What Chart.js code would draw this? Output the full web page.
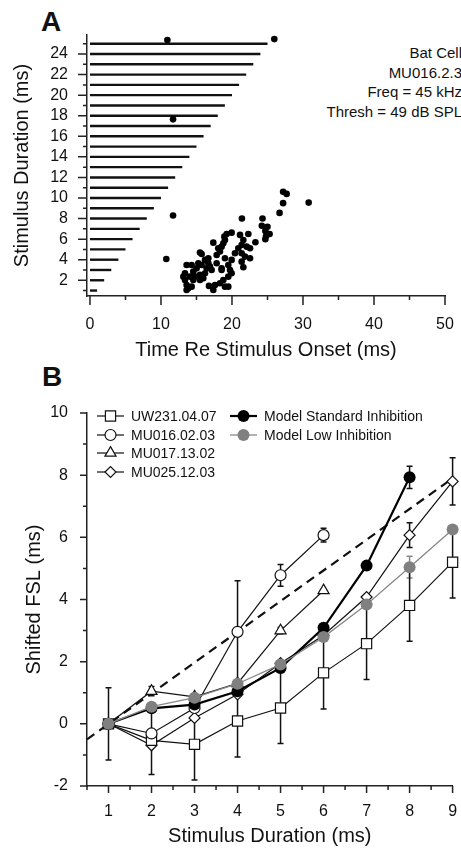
<!DOCTYPE html>
<html>
<head>
<meta charset="utf-8">
<script src="https://cdn.jsdelivr.net/npm/chart.js@4.4.0/dist/chart.umd.min.js"></script>
<style>
  body { margin: 0; width: 461px; height: 850px; overflow: hidden; background: #fff; position: relative;
         font-family: "Liberation Sans", Arial, sans-serif; color: #111; }
  canvas { position: absolute; left: 0; }
  #chart-a { top: 0; }
  #chart-b { top: 360px; }
  .panel-label { position: absolute; font-weight: bold; font-size: 28px; line-height: 28px; }
  #cell-info { position: absolute; top: 43px; left: 0; width: 462px; text-align: right; font-size: 15px; line-height: 19.5px; }
</style>
</head>
<body>
<div class="panel-label" style="left:41px; top:8px;">A</div>
<div class="panel-label" style="left:42px; top:363px;">B</div>
<div id="cell-info">Bat Cell<br>MU016.2.3<br>Freq = 45 kHz<br>Thresh = 49 dB SPL</div>
<canvas id="chart-a" width="461" height="370"></canvas>
<canvas id="chart-b" width="461" height="490"></canvas>
<script>
// ---- panel A: raster of first spikes ----
const stimDurations = [1, 2, 3, 4, 5, 6, 7, 8, 9, 10, 11, 12, 13, 14, 15, 16, 17, 18, 19, 20, 21, 22, 23, 24, 25];
const spikeTimes = [10.9, 25.96, 11.7, 11.7, 10.75, 27.2, 27.7, 27.2, 30.8, 26.7, 21.4, 24.3, 24.2, 25.0, 24.7, 25.3, 24.8, 24.7, 23.3,
  19.95, 19.25, 18.92, 19.01, 18.78, 18.54, 18.07, 18.31, 17.84, 17.37, 21.13, 22.30, 21.60, 21.36, 22.07, 22.54, 20.89, 21.36,
  21.83, 22.54, 21.36, 21.60, 19.95, 19.48, 19.72, 19.48, 19.95, 18.54, 18.78, 19.01, 19.48, 18.31, 17.61, 17.37, 16.76, 15.73,
  15.49, 16.20, 16.67, 16.90, 16.43, 17.14, 15.73, 15.26, 15.02, 14.32, 13.61, 13.38, 13.15, 13.38, 13.61, 13.85, 13.61, 14.32,
  14.55, 14.79, 15.49, 15.96, 16.20, 14.55, 14.08, 15.49, 16.67, 17.84, 18.54, 19.01, 20.42];
const spikeDurs = [25.36, 25.45, 17.65, 8.3, 4.07, 10.6, 10.4, 9.5, 9.55, 8.55, 8.0, 8.0, 7.3, 7.2, 6.8, 6.5, 6.3, 6.0, 5.7,
  6.63, 6.50, 6.24, 5.92, 5.60, 5.27, 5.11, 4.79, 4.46, 5.66, 6.41, 6.50, 5.92, 5.43, 5.27, 5.11, 5.11, 4.62,
  4.30, 4.14, 3.81, 3.27, 3.98, 3.49, 3.00, 2.35, 2.68, 3.16, 2.03, 1.38, 1.38, 1.71, 1.54, 1.06, 1.45, 4.56,
  4.69, 3.98, 4.14, 3.33, 3.16, 3.00, 3.49, 3.65, 3.16, 3.49, 3.49, 2.68, 2.35, 2.03, 1.54, 1.22, 1.06, 1.38,
  2.03, 2.35, 2.52, 2.19, 2.68, 2.84, 2.35, 2.03, 3.65, 3.65, 3.00, 4.14, 4.62];
const aXTicks = [0, 10, 20, 30, 40, 50];
const aXMinor = [5, 15, 25, 35, 45];
const aYTicks = [2, 4, 6, 8, 10, 12, 14, 16, 18, 20, 22, 24];
const aYMinor = [1, 3, 5, 7, 9, 11, 13, 15, 17, 19, 21, 23, 25];

// ---- panel B: shifted first spike latency ----
const durB = [1, 2, 3, 4, 5, 6, 7, 8, 9];
const uw231 = [0, -0.53, -0.66, 0.09, 0.51, 1.64, 2.58, 3.81, 5.2];
const uw231Err = [1.16, 1.1, 1.15, 1.16, 1.14, 1.16, 1.15, 1.15, 1.15];
const mu016 = [0, -0.31, 0.51, 2.96, 4.78, 6.07];
const mu016Err = [0, 0, 0, 1.64, 0.35, 0.22];
const mu017 = [0, 1.05, 0.87, 1.3, 3.0, 4.29];
const mu017Err = [0, 0.15, 0, 0, 0.1, 0];
const mu025 = [0, -0.69, 0.19, 0.95, 1.95, 2.85, 4.08, 6.07, 7.8];
const mu025Err = [0, 0, 0, 0, 0, 0, 0, 0.4, 0.76];
const modelStd = [0, 0.5, 0.62, 1.05, 1.8, 3.09, 5.09, 7.93];
const modelStdErr = [0, 0, 0, 0, 0, 0, 0, 0.36];
const modelLow = [0, 0.55, 0.84, 1.29, 1.91, 2.79, 3.84, 5.04, 6.25];
const modelLowErr = [0, 0, 0, 0, 0, 0, 0, 0.35, 0];
const unityX = [0.5, 9];
const unityY = [-0.5, 7.9];
const bXTicks = [1, 2, 3, 4, 5, 6, 7, 8, 9];
const bXMinor = [0.5, 1.5, 2.5, 3.5, 4.5, 5.5, 6.5, 7.5, 8.5];
const bYTicks = [-2, 0, 2, 4, 6, 8, 10];
const bYMinor = [-1, 1, 3, 5, 7, 9];

Chart.defaults.font.family = '"Liberation Sans", Arial, sans-serif';
Chart.defaults.color = '#111';

const toPoints = (xs, ys) => ys.map((v, i) => ({ x: xs[i], y: v }));

// short/long tick marks drawn on the library scales
const makeTickMarks = (marks) => ({
  id: 'tickMarks',
  afterDraw(chart) {
    const { ctx, scales: { x, y } } = chart;
    ctx.save();
    ctx.strokeStyle = '#222';
    ctx.lineWidth = 1.5;
    ctx.beginPath();
    const xMark = (v, len) => { const p = x.getPixelForValue(v); ctx.moveTo(p, x.top); ctx.lineTo(p, x.top + len); };
    const yMark = (v, len) => { const p = y.getPixelForValue(v); ctx.moveTo(y.right, p); ctx.lineTo(y.right - len, p); };
    marks.xMajor.forEach(v => xMark(v, marks.major));
    marks.xMinor.forEach(v => xMark(v, marks.minor));
    marks.yMajor.forEach(v => yMark(v, marks.major));
    marks.yMinor.forEach(v => yMark(v, marks.minor));
    ctx.stroke();
    ctx.restore();
  }
});

const fixedScale = (size) => (scale) => {
  if (scale.isHorizontal()) scale.height = size; else scale.width = size;
  scale.paddingLeft = 0; scale.paddingRight = 0; scale.paddingTop = 0; scale.paddingBottom = 0;
};

const axisStyle = {
  grid: { display: false, drawTicks: false },
  border: { color: '#222', width: 1.5 }
};

// ---------- chart A ----------
const stimLines = stimDurations.map(d => ({
  data: [{ x: 0, y: d }, { x: d, y: d }],
  showLine: true,
  borderColor: '#111',
  borderWidth: 2.4,
  borderCapStyle: 'butt',
  pointRadius: 0
}));

new Chart(document.getElementById('chart-a'), {
  type: 'scatter',
  data: {
    datasets: [
      { data: toPoints(spikeTimes, spikeDurs), backgroundColor: '#000', borderColor: '#000', pointRadius: 3.3, borderWidth: 0 },
      ...stimLines
    ]
  },
  options: {
    responsive: false,
    animation: false,
    layout: { padding: { top: 35, right: 16, left: 0, bottom: 0 } },
    plugins: { legend: { display: false }, tooltip: { enabled: false } },
    scales: {
      x: {
        ...axisStyle,
        type: 'linear', min: -0.42, max: 50,
        afterBuildTicks: s => { s.ticks = aXTicks.map(v => ({ value: v })); },
        afterFit: fixedScale(74),
        ticks: { font: { size: 16 }, padding: 19, autoSkip: false, maxRotation: 0 },
        title: { display: true, text: 'Time Re Stimulus Onset (ms)', font: { size: 20 }, padding: { top: 0, bottom: 8 } }
      },
      y: {
        ...axisStyle,
        type: 'linear', min: 0.47, max: 25.85,
        afterBuildTicks: s => { s.ticks = aYTicks.map(v => ({ value: v })); },
        afterFit: fixedScale(87),
        ticks: { font: { size: 16 }, padding: 19, autoSkip: false },
        title: { display: true, text: 'Stimulus Duration (ms)', font: { size: 20 }, padding: { top: 10, bottom: 0 } }
      }
    }
  },
  plugins: [makeTickMarks({ xMajor: aXTicks, xMinor: aXMinor, yMajor: aYTicks, yMinor: aYMinor, major: 9, minor: 4 })]
});

// ---------- chart B ----------
const errorBars = {
  id: 'errorBars',
  beforeDatasetsDraw(chart) {
    const { ctx, scales: { x, y } } = chart;
    ctx.save();
    ctx.lineWidth = 1.5;
    chart.data.datasets.forEach(ds => {
      if (!ds.errors) return;
      ctx.strokeStyle = ds.errorColor || '#111';
      ctx.beginPath();
      ds.data.forEach((p, i) => {
        const e = ds.errors[i];
        if (!e) return;
        const px = x.getPixelForValue(p.x);
        const top = y.getPixelForValue(p.y + e);
        const bot = y.getPixelForValue(p.y - e);
        ctx.moveTo(px, top); ctx.lineTo(px, bot);
        ctx.moveTo(px - 3, top); ctx.lineTo(px + 3, top);
        ctx.moveTo(px - 3, bot); ctx.lineTo(px + 3, bot);
      });
      ctx.stroke();
    });
    ctx.restore();
  }
};

// legend slots: [column x, row y] in canvas pixels
const legendSlots = {
  'UW231.04.07': [97, 56], 'MU016.02.03': [97, 75], 'MU017.13.02': [97, 93], 'MU025.12.03': [97, 112],
  'Model Standard Inhibition': [230, 56], 'Model Low Inhibition': [230, 75]
};
const legendBox = {
  id: 'legendBox',
  afterDraw(chart) {
    const ctx = chart.ctx;
    ctx.save();
    chart.data.datasets.forEach(ds => {
      const slot = legendSlots[ds.label];
      if (!slot) return;
      const [lx, ly] = slot;
      ctx.strokeStyle = ds.borderColor;
      ctx.lineWidth = ds.borderWidth;
      ctx.beginPath();
      ctx.moveTo(lx, ly); ctx.lineTo(lx + 27, ly);
      ctx.stroke();
      ctx.fillStyle = ds.pointBackgroundColor;
      ctx.strokeStyle = ds.pointBorderColor;
      ctx.lineWidth = ds.pointBorderWidth;
      Chart.helpers.drawPoint(ctx, { pointStyle: ds.pointStyle, radius: ds.pointRadius, borderWidth: ds.pointBorderWidth, rotation: 0 }, lx + 13.5, ly);
      ctx.fillStyle = '#111';
      ctx.font = '14px "Liberation Sans", Arial, sans-serif';
      ctx.textBaseline = 'middle';
      ctx.fillText(ds.label, lx + 34, ly + 1);
    });
    ctx.restore();
  }
};

const seriesStyle = (label, ys, errs, pointStyle, radius) => ({
  label,
  data: toPoints(durB, ys),
  errors: errs,
  showLine: true,
  borderColor: '#111',
  borderWidth: 1.2,
  pointStyle,
  pointRadius: radius,
  pointBackgroundColor: '#fff',
  pointBorderColor: '#111',
  pointBorderWidth: 1.2,
  clip: false
});

new Chart(document.getElementById('chart-b'), {
  type: 'scatter',
  data: {
    datasets: [
      {
        label: 'Model Low Inhibition', data: toPoints(durB, modelLow), errors: modelLowErr, errorColor: '#888',
        showLine: true, borderColor: '#888', borderWidth: 1.3, pointStyle: 'circle', pointRadius: 6,
        pointBackgroundColor: '#808080', pointBorderColor: '#808080', pointBorderWidth: 0, clip: false
      },
      {
        label: 'Model Standard Inhibition', data: toPoints(durB, modelStd), errors: modelStdErr,
        showLine: true, borderColor: '#000', borderWidth: 2.2, pointStyle: 'circle', pointRadius: 6,
        pointBackgroundColor: '#000', pointBorderColor: '#000', pointBorderWidth: 0, clip: false
      },
      seriesStyle('MU016.02.03', mu016, mu016Err, 'circle', 5.5),
      seriesStyle('UW231.04.07', uw231, uw231Err, 'rect', 7.2),
      seriesStyle('MU017.13.02', mu017, mu017Err, 'triangle', 6.4),
      seriesStyle('MU025.12.03', mu025, mu025Err, 'rectRot', 5.5),
      {
        data: toPoints(unityX, unityY), showLine: true, borderColor: '#111', borderWidth: 2.2,
        borderDash: [9, 6], pointRadius: 0, clip: false
      }
    ]
  },
  options: {
    responsive: false,
    animation: false,
    layout: { padding: { top: 53, right: 3, left: 0, bottom: 0 } },
    plugins: { legend: { display: false }, tooltip: { enabled: false } },
    scales: {
      x: {
        ...axisStyle,
        type: 'linear', min: 0.5, max: 9,
        afterBuildTicks: s => { s.ticks = bXTicks.map(v => ({ value: v })); },
        afterFit: fixedScale(64),
        ticks: { font: { size: 16 }, padding: 16, autoSkip: false, maxRotation: 0 },
        title: { display: true, text: 'Stimulus Duration (ms)', font: { size: 20 }, padding: { top: 0, bottom: 2 } }
      },
      y: {
        ...axisStyle,
        type: 'linear', min: -2, max: 10,
        afterBuildTicks: s => { s.ticks = bYTicks.map(v => ({ value: v })); },
        afterFit: fixedScale(87),
        ticks: { font: { size: 16 }, padding: 19, autoSkip: false },
        title: { display: true, text: 'Shifted FSL (ms)', font: { size: 20 }, padding: { top: 22, bottom: 0 } }
      }
    }
  },
  plugins: [errorBars, legendBox, makeTickMarks({ xMajor: bXTicks, xMinor: bXMinor, yMajor: bYTicks, yMinor: bYMinor, major: 7, minor: 4 })]
});
</script>
</body>
</html>
